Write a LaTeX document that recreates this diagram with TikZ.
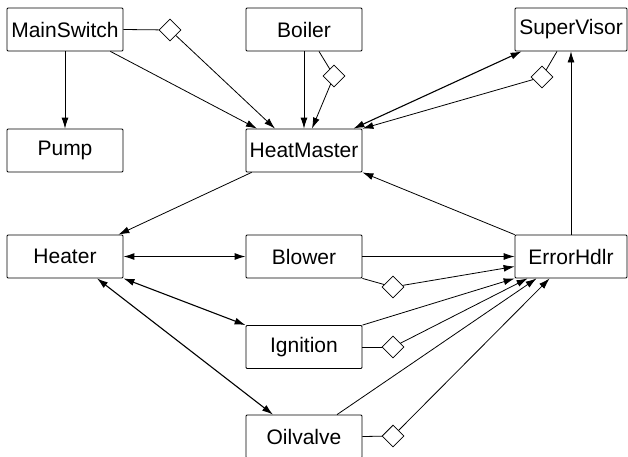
\documentclass[tikz,border=0pt]{standalone}
\usepackage{fontspec}
\setmainfont{Liberation Sans}
\usetikzlibrary{arrows.meta,shapes.geometric}

\tikzset{
	unit/.style={draw, rectangle, fill=white, rounded corners=1pt, minimum width=116, minimum height=43, inner sep=0, font=\fontsize{21}{25}\selectfont},
	narrowunit/.style={unit, minimum width=112},
	agg/.style={draw, diamond, fill=white, minimum size=22, inner sep=0},
	both/.style={<->, line width=1.1pt}
}

\begin{document}
\begin{tikzpicture}[x=1pt,y=-1pt,>={Latex[length=11pt,width=7pt]},line width=0.8pt]
	\useasboundingbox (0,0) rectangle (628,456);

	\node [unit] (MainSwitch) at (65, 29.5) {MainSwitch};
	\node [unit] (Boiler) at (304, 29.5) {Boiler};
	\node [narrowunit] (SuperVisor) at (571, 29.5) {SuperVisor};
	\node [unit] (Pump) at (65, 150.5) {Pump};
	\node [unit] (HeatMaster) at (304, 150.5) {HeatMaster};
	\node [unit] (Heater) at (65, 256.5) {Heater};
	\node [unit] (Blower) at (304, 256.5) {Blower};
	\node [narrowunit] (ErrorHdlr) at (571, 256.5) {ErrorHdlr};
	\node [unit] (Ignition) at (304, 347) {Ignition};
	\node [unit] (Oilvalve) at (304, 436.5) {Oilvalve};

	\node [agg] (aggMain) at (170, 30) {};
	\node [agg] (aggBoiler) at (334, 76) {};
	\node [agg] (aggSuper) at (542, 77) {};
	\node [agg] (aggBlower) at (393, 287) {};
	\node [agg] (aggIgnition) at (393, 347) {};
	\node [agg] (aggOilvalve) at (393, 436) {};

	% top row
	\draw [->] (MainSwitch.south) -- (Pump.north);
	\draw (MainSwitch.east) -- (aggMain);
	\draw [->] (aggMain) -- ([xshift=-29pt]HeatMaster.north);
	\draw [->] ([xshift=-13pt]MainSwitch.south east) -- ([xshift=-47pt]HeatMaster.north);
	\draw [->] (Boiler.south) -- (HeatMaster.north);
	\draw ([xshift=15pt]Boiler.south) -- (aggBoiler);
	\draw [->] (aggBoiler) -- ([xshift=8pt]HeatMaster.north);
	\draw [both] ([xshift=-9pt]HeatMaster.north east) -- ([xshift=7pt]SuperVisor.south west);
	\draw ([xshift=-14pt]SuperVisor.south) -- (aggSuper);
	\draw [->] (aggSuper) -- (HeatMaster.north east);

	% middle
	\draw [->] ([xshift=6pt]HeatMaster.south west) -- ([xshift=-5pt]Heater.north east);
	\draw [->] (ErrorHdlr.north west) -- (HeatMaster.south east);
	\draw [->] (ErrorHdlr.north) -- (SuperVisor.south);

	\draw [both] (Heater.east) -- (Blower.west);
	\draw [both] (Heater.south east) -- (Ignition.north west);
	\draw [both] ([xshift=32pt]Heater.south) -- ([xshift=-31pt]Oilvalve.north);

	% to the error handler
	\draw [->] (Blower.east) -- (ErrorHdlr.west);
	\draw (Blower.south east) -- (aggBlower);
	\draw [->] (aggBlower) -- ([yshift=-10pt]ErrorHdlr.west);
	\draw [->] (Ignition.north east) -- (ErrorHdlr.south west);
	\draw (Ignition.east) -- (aggIgnition);
	\draw [->] (aggIgnition) -- ([xshift=13pt]ErrorHdlr.south west);
	\draw [->] ([xshift=33pt]Oilvalve.north) -- ([xshift=22pt]ErrorHdlr.south west);
	\draw (Oilvalve.east) -- (aggOilvalve);
	\draw [->] (aggOilvalve) -- ([xshift=35pt]ErrorHdlr.south west);

\end{tikzpicture}
\end{document}
